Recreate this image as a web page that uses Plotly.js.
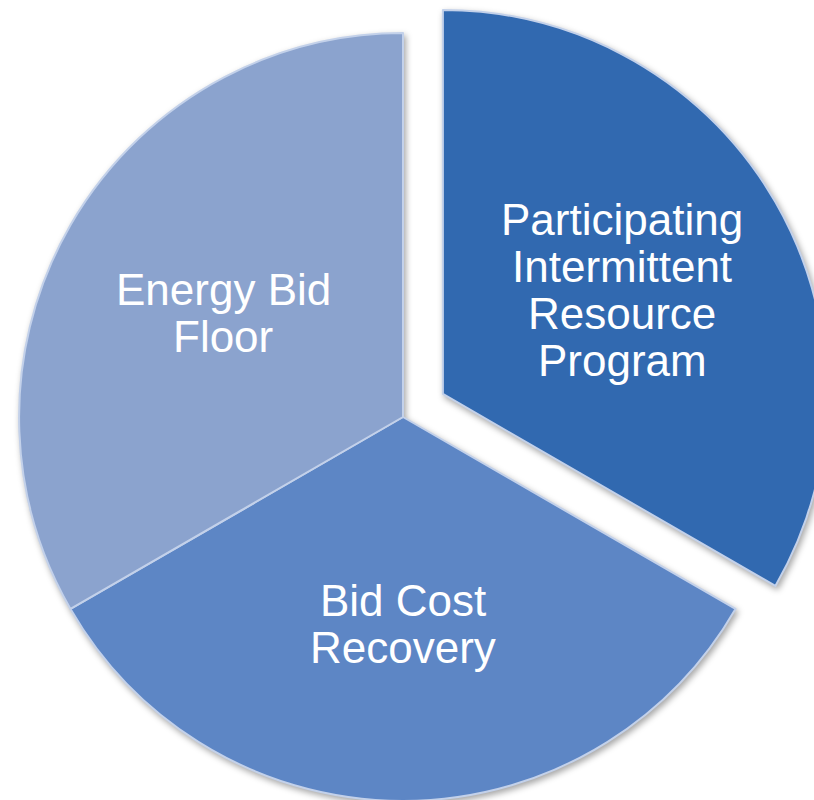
<!DOCTYPE html>
<html>
<head>
<meta charset="utf-8">
<script src="https://cdn.plot.ly/plotly-3.0.1.min.js"></script>
<style>
  html, body { margin: 0; padding: 0; width: 814px; height: 800px; overflow: hidden; background: #ffffff; }
  #chart { position: absolute; left: -27px; top: -13px; width: 860px; height: 860px; }
  #chart .pielayer { filter: drop-shadow(2px 3px 3px rgba(0,0,0,0.35)); }
</style>
</head>
<body>
<div id="chart"></div>
<script>
// Data
const labels = ["Participating Intermittent Resource Program", "Bid Cost Recovery", "Energy Bid Floor"];
const labelLines = [["Participating", "Intermittent", "Resource", "Program"], ["Bid Cost", "Recovery"], ["Energy Bid", "Floor"]];
const values = [1, 1, 1];
const pulls = [0.12, 0, 0];
const colors = ["#3169B0", "#5D86C5", "#8BA3CE"];

const W = 860, H = 860;
const maxPull = Math.max(...pulls);
const R = Math.min(W, H) / 2 / (1 + maxPull);
const total = values.reduce((a, b) => a + b, 0);
const textFrac = 0.54;
const fontSize = 44;
const lineGap = 47;

// Labels placed along each slice bisector (clockwise from 12 o'clock)
const annotations = [];
let cum = 0;
values.forEach((v, i) => {
  const mid = (cum + v / 2) / total * 2 * Math.PI;
  cum += v;
  const dist = (textFrac + pulls[i]) * R;
  const cx = W / 2 + dist * Math.sin(mid);
  const cy = H / 2 - dist * Math.cos(mid);
  const lines = labelLines[i];
  lines.forEach((t, k) => {
    const py = cy + (k - (lines.length - 1) / 2) * lineGap;
    annotations.push({
      text: t, xref: "paper", yref: "paper",
      x: cx / W, y: 1 - py / H, xanchor: "center", yanchor: "middle",
      showarrow: false,
      font: { family: "Liberation Sans, Arial, sans-serif", size: fontSize, color: "#ffffff" }
    });
  });
});

Plotly.newPlot("chart", [{
  type: "pie",
  labels: labels,
  values: values,
  pull: pulls,
  sort: false,
  direction: "clockwise",
  rotation: 0,
  textinfo: "none",
  hoverinfo: "label",
  marker: { colors: colors, line: { color: "#c3d1ea", width: 2 } },
  domain: { x: [0, 1], y: [0, 1] }
}], {
  width: W, height: H,
  margin: { l: 0, r: 0, t: 0, b: 0 },
  showlegend: false,
  paper_bgcolor: "rgba(0,0,0,0)",
  plot_bgcolor: "rgba(0,0,0,0)",
  annotations: annotations
}, { displayModeBar: false, staticPlot: true });
</script>
</body>
</html>
